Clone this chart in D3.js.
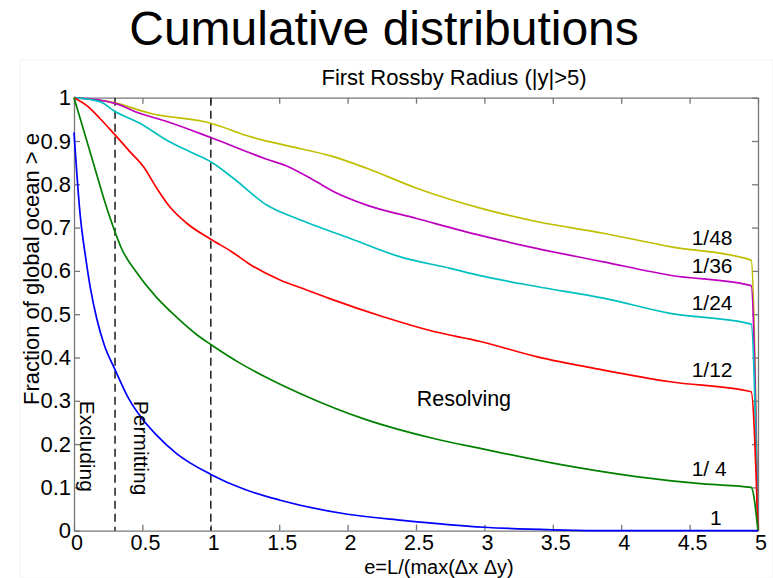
<!DOCTYPE html>
<html>
<head>
<meta charset="utf-8">
<script src="https://cdn.jsdelivr.net/npm/d3@7"></script>
<style>
  html, body { margin: 0; padding: 0; background: #fff; }
  svg { display: block; }
  text { font-family: "Liberation Sans", Arial, sans-serif; fill: #000; }
</style>
</head>
<body>
<svg id="chart" width="773" height="578"></svg>
<script>
// ---------- data ----------
const seriesNames = ["1/48", "1/36", "1/24", "1/12", "1/ 4", "1"];
const seriesColors = ["#bfbf00", "#bf00bf", "#00bfbf", "#ff0000", "#008000", "#0000ff"];

const x48 = [0, 0.3, 0.555, 1, 1.287, 1.53, 1.895, 2.14, 2.505, 2.97, 3.38, 3.87, 4.357, 4.95, 5];
const y48 = [1, 0.988, 0.964, 0.941, 0.91, 0.891, 0.864, 0.837, 0.791, 0.745, 0.714, 0.687, 0.656, 0.625, 0];

const x36 = [0, 0.3, 0.48, 0.678, 1, 1.409, 1.55, 1.75, 1.9, 2.14, 2.505, 2.97, 3.38, 3.87, 4.357, 4.95, 5];
const y36 = [1, 0.987, 0.964, 0.945, 0.908, 0.858, 0.843, 0.81, 0.783, 0.752, 0.721, 0.682, 0.652, 0.621, 0.59, 0.566, 0];

const x24 = [0, 0.19, 0.3, 0.482, 0.678, 0.848, 1, 1.165, 1.409, 1.652, 2.02, 2.38, 2.75, 2.97, 3.38, 3.87, 4.357, 4.95, 5];
const y24 = [1, 0.991, 0.968, 0.941, 0.902, 0.875, 0.852, 0.814, 0.752, 0.718, 0.675, 0.633, 0.606, 0.589, 0.564, 0.537, 0.502, 0.477, 0];

const x12 = [0, 0.105, 0.19, 0.3, 0.41, 0.507, 0.605, 0.70, 0.824, 1, 1.15, 1.287, 1.506, 1.70, 1.895, 2.26, 2.63, 2.97, 3.38, 3.87, 4.357, 4.95, 5];
const y12 = [1, 0.979, 0.952, 0.914, 0.875, 0.841, 0.791, 0.748, 0.71, 0.673, 0.645, 0.615, 0.579, 0.556, 0.533, 0.494, 0.46, 0.437, 0.402, 0.371, 0.344, 0.321, 0];

const x4 = [0, 0.075, 0.15, 0.22, 0.3, 0.35, 0.45, 0.6, 0.74, 0.9, 1, 1.213, 1.4, 1.652, 2.14, 2.63, 2.97, 3.5, 4.11, 4.6, 4.95, 5];
const y4 = [1, 0.92, 0.84, 0.765, 0.69, 0.65, 0.6, 0.54, 0.496, 0.452, 0.43, 0.387, 0.355, 0.317, 0.256, 0.213, 0.19, 0.156, 0.125, 0.108, 0.10, 0];

const x1 = [0, 0.044, 0.088, 0.12, 0.166, 0.22, 0.3, 0.4, 0.5, 0.6, 0.75, 1, 1.25, 1.5, 2, 2.4, 3, 3.5, 4, 4.95, 5];
const y1 = [0.92, 0.733, 0.625, 0.56, 0.49, 0.43, 0.372, 0.305, 0.258, 0.222, 0.178, 0.13, 0.095, 0.071, 0.038, 0.024, 0.008, 0.002, 0, 0, 0];

const seriesX = [x48, x36, x24, x12, x4, x1];
const seriesY = [y48, y36, y24, y12, y4, y1];

// series label anchor points (data units)
const labelX = [4.515, 4.515, 4.515, 4.515, 4.515, 4.65];
const labelY = [0.66, 0.596, 0.51, 0.356, 0.127, 0.013];

const xTicks = [0, 0.5, 1, 1.5, 2, 2.5, 3, 3.5, 4, 4.5, 5];
const yTicks = [0, 0.1, 0.2, 0.3, 0.4, 0.5, 0.6, 0.7, 0.8, 0.9, 1];
const dashedAt = [0.3, 1];

const titleText = "Cumulative distributions";
const subtitleText = "First Rossby Radius (|y|>5)";
const xLabelText = "e=L/(max(\u0394x \u0394y)";
const yLabelText = "Fraction of global ocean > e";
const regionNames = ["Excluding", "Permitting", "Resolving"];

(function () {
// ---------- layout ----------
const svg = d3.select("#chart");
const W = 773, H = 578;
const pLeft = 74, pRight = 758, pTop = 97.7, pBottom = 530.7;

svg.append("rect").attr("width", W).attr("height", H).attr("fill", "#fff");
// faint figure frame
svg.append("rect").attr("x", 20).attr("y", 60).attr("width", W - 20).attr("height", H - 60)
  .attr("fill", "none").attr("stroke", "#f3f3f3").attr("stroke-width", 1);

const x = d3.scaleLinear().domain([0, 5]).range([pLeft, pRight]);
const y = d3.scaleLinear().domain([0, 1]).range([pBottom, pTop]);

const fmt = d => String(d);
const axisColor = "#777";
const tickLen = 6;

function styleAxis(g) {
  g.select(".domain").attr("stroke", axisColor).attr("stroke-width", 1.3);
  g.selectAll(".tick line").attr("stroke", axisColor).attr("stroke-width", 1.3);
}

// bottom axis (ticks inward)
const gx = svg.append("g").attr("transform", `translate(0,${pBottom})`)
  .call(d3.axisBottom(x).tickValues(xTicks).tickFormat(fmt).tickSizeInner(-tickLen).tickSizeOuter(0).tickPadding(8));
styleAxis(gx);
gx.selectAll(".tick text").attr("font-size", 21.5).attr("font-family", "Liberation Sans, Arial, sans-serif")
  .attr("fill", "#000").attr("dy", "0").attr("y", 19.5).attr("dx", 2.5);

// top axis (no labels)
const gt = svg.append("g").attr("transform", `translate(0,${pTop})`)
  .call(d3.axisTop(x).tickValues(xTicks).tickFormat("").tickSizeInner(-tickLen).tickSizeOuter(0));
styleAxis(gt);

// left axis
const gy = svg.append("g").attr("transform", `translate(${pLeft},0)`)
  .call(d3.axisLeft(y).tickValues(yTicks).tickFormat(fmt).tickSizeInner(-tickLen).tickSizeOuter(0).tickPadding(5));
styleAxis(gy);
gy.selectAll(".tick text").attr("font-size", 22).attr("font-family", "Liberation Sans, Arial, sans-serif")
  .attr("fill", "#000").attr("x", -3);

// right axis (no labels)
const gr = svg.append("g").attr("transform", `translate(${pRight},0)`)
  .call(d3.axisRight(y).tickValues(yTicks).tickFormat("").tickSizeInner(-tickLen).tickSizeOuter(0));
styleAxis(gr);

// dashed vertical lines
svg.selectAll("line.dash").data(dashedAt).enter().append("line")
  .attr("class", "dash")
  .attr("x1", d => x(d)).attr("x2", d => x(d))
  .attr("y1", y(1)).attr("y2", y(0))
  .attr("stroke", "#2a2a2a").attr("stroke-width", 1.6).attr("stroke-dasharray", "8,5");

// curves
const line = d3.line().x(d => x(d[0])).y(d => y(d[1])).curve(d3.curveMonotoneX);
seriesX.forEach((xs, i) => {
  const pts = xs.map((v, j) => [v, seriesY[i][j]]);
  svg.append("path").datum(pts)
    .attr("d", line)
    .attr("fill", "none")
    .attr("stroke", seriesColors[i])
    .attr("stroke-width", 1.7)
    .attr("stroke-linejoin", "round");
});

// series labels
svg.selectAll("text.slabel").data(seriesNames).enter().append("text")
  .attr("class", "slabel")
  .attr("x", (d, i) => x(labelX[i]))
  .attr("y", (d, i) => y(labelY[i]))
  .attr("font-size", 21)
  .text(d => d);

// region labels
svg.append("text").attr("transform", `translate(${x(0.045)},${y(0.3)}) rotate(90)`)
  .attr("font-size", 21).text(regionNames[0]);
svg.append("text").attr("transform", `translate(${x(0.44)},${y(0.3)}) rotate(90)`)
  .attr("font-size", 21).text(regionNames[1]);
svg.append("text").attr("x", x(2.505)).attr("y", y(0.288))
  .attr("font-size", 21.5).text(regionNames[2]);

// titles
svg.append("text").attr("x", 384).attr("y", 45).attr("text-anchor", "middle")
  .attr("font-size", 48).text(titleText);
svg.append("text").attr("x", 454).attr("y", 85).attr("text-anchor", "middle")
  .attr("font-size", 22).text(subtitleText);
svg.append("text").attr("x", 439).attr("y", 573.5).attr("text-anchor", "middle")
  .attr("font-size", 20).text(xLabelText);
svg.append("text").attr("transform", `translate(39,269) rotate(-90)`).attr("text-anchor", "middle")
  .attr("font-size", 22).text(yLabelText);
})();
</script>
</body>
</html>
